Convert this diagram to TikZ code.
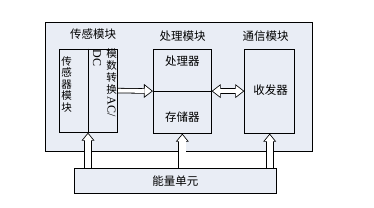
\documentclass[tikz,border=0pt]{standalone}
\usepackage{fontspec}
\newfontfamily\cjk{Noto Sans CJK SC}
\newfontfamily\latin{Liberation Serif}
\usetikzlibrary{arrows.meta}
\usetikzlibrary{positioning}
\definecolor{panel}{RGB}{233,237,245}
\pgfdeclarelayer{background}
\pgfsetlayers{background,main}

\begin{document}
\begin{tikzpicture}[x=1pt, y=-1pt]
\tikzstyle{frame} = [rectangle, draw=black, line width=0.8pt, fill=panel, inner sep=0pt]
\tikzstyle{block} = [rectangle, draw=black, line width=0.8pt, fill=panel, inner sep=0pt]
\tikzstyle{title} = [inner sep=0pt, font=\cjk\fontsize{11.5}{13}\selectfont]
\tikzstyle{vtext} = [inner sep=0pt, align=center, font=\cjk\fontsize{10.5}{11.4}\selectfont]
\tikzstyle{vlatin} = [inner sep=0pt, rotate=-90, anchor=west, font=\latin\fontsize{12}{12}\selectfont]
% hollow arrows: black body, white inside
\tikzstyle{busout} = [line width=5.4pt, shorten <=0.4pt, -{Triangle[length=9pt, width=14pt, line width=0pt]}]
\tikzstyle{busin} = [white, line width=3.8pt, shorten <=0.4pt, shorten >=1.3pt, -{Triangle[length=6.9pt, width=10.7pt, line width=0pt]}]
\tikzstyle{busboth} = [line width=5.4pt, {Triangle[length=9pt, width=14pt, line width=0pt]}-{Triangle[length=9pt, width=14pt, line width=0pt]}]
\tikzstyle{busbothin} = [white, line width=3.8pt, shorten >=1.3pt, shorten <=1.3pt, {Triangle[length=6.9pt, width=10.7pt, line width=0pt]}-{Triangle[length=6.9pt, width=10.7pt, line width=0pt]}]
\tikzstyle{powout} = [line width=8pt, shorten <=0.4pt, -{Triangle[length=8pt, width=13pt, line width=0pt]}]
\tikzstyle{powin} = [white, line width=6.4pt, shorten <=0.4pt, shorten >=1.3pt, -{Triangle[length=5.9pt, width=9.6pt, line width=0pt]}]

\useasboundingbox (0,0) rectangle (374,207);

% System
\begin{pgfonlayer}{background}
\node (sys) [frame, minimum width=266.6pt, minimum height=128.7pt] at (179,86.6) {};
\end{pgfonlayer}
\node (sensortitle) [title] at (93,34.5) {传感模块};
\node (proctitle) [title] at (182.5,36) {处理模块};
\node (commtitle) [title] at (265.5,36) {通信模块};

% Modules
\node (sensor) [block, minimum width=58pt, minimum height=83.3pt] at (88.3,90.6) {};
\node (proc) [block, minimum width=58pt, minimum height=84.3pt] at (182.3,91.1) {};
\node (comm) [block, minimum width=50pt, minimum height=84.3pt] at (269.7,91.1) {};
\node (energy) [block, minimum width=202pt, minimum height=25pt] at (175.3,180.8) {};

% Dividers
\coordinate (sdiv) at (88,90);
\draw[line width=0.8pt] (sensor.north -| sdiv) -- (sensor.south -| sdiv);
\draw[line width=0.8pt] (proc.west) -- (proc.east);

% Labels
\node (sensorlbl) [vtext, anchor=north] at (66.5,56.5) {传\\感\\器\\模\\块};
\node (adclbl) [vtext, anchor=north, font=\cjk\fontsize{10.5}{12}\selectfont] at (111.5,48.5) {模\\数\\转\\换};
\node (aclbl) [vlatin] at (111.5,96.5) {AC/};
\node (dclbl) [vlatin] at (97,49.5) {DC};
\node (cpulbl) [title] at (182.3,61.5) {处理器};
\node (memlbl) [title] at (182.3,117) {存储器};
\node (rxlbl) [title] at (270.5,90) {收发器};
\node (energylbl) [title] at (175.3,181) {能量单元};

% Arrows
\draw[busout] (sensor.east) -- (proc.west);
\draw[busin] (sensor.east) -- (proc.west);
\draw[busboth] (proc.east) -- (comm.west);
\draw[busbothin] (proc.east) -- (comm.west);
\draw[powout] (energy.north -| sdiv) -- (sensor.south -| sdiv);
\draw[powin] (energy.north -| sdiv) -- (sensor.south -| sdiv);
\draw[powout] (energy.north -| proc.south) -- (proc.south);
\draw[powin] (energy.north -| proc.south) -- (proc.south);
\draw[powout] (energy.north -| comm.south) -- (comm.south);
\draw[powin] (energy.north -| comm.south) -- (comm.south);
\end{tikzpicture}
\end{document}
